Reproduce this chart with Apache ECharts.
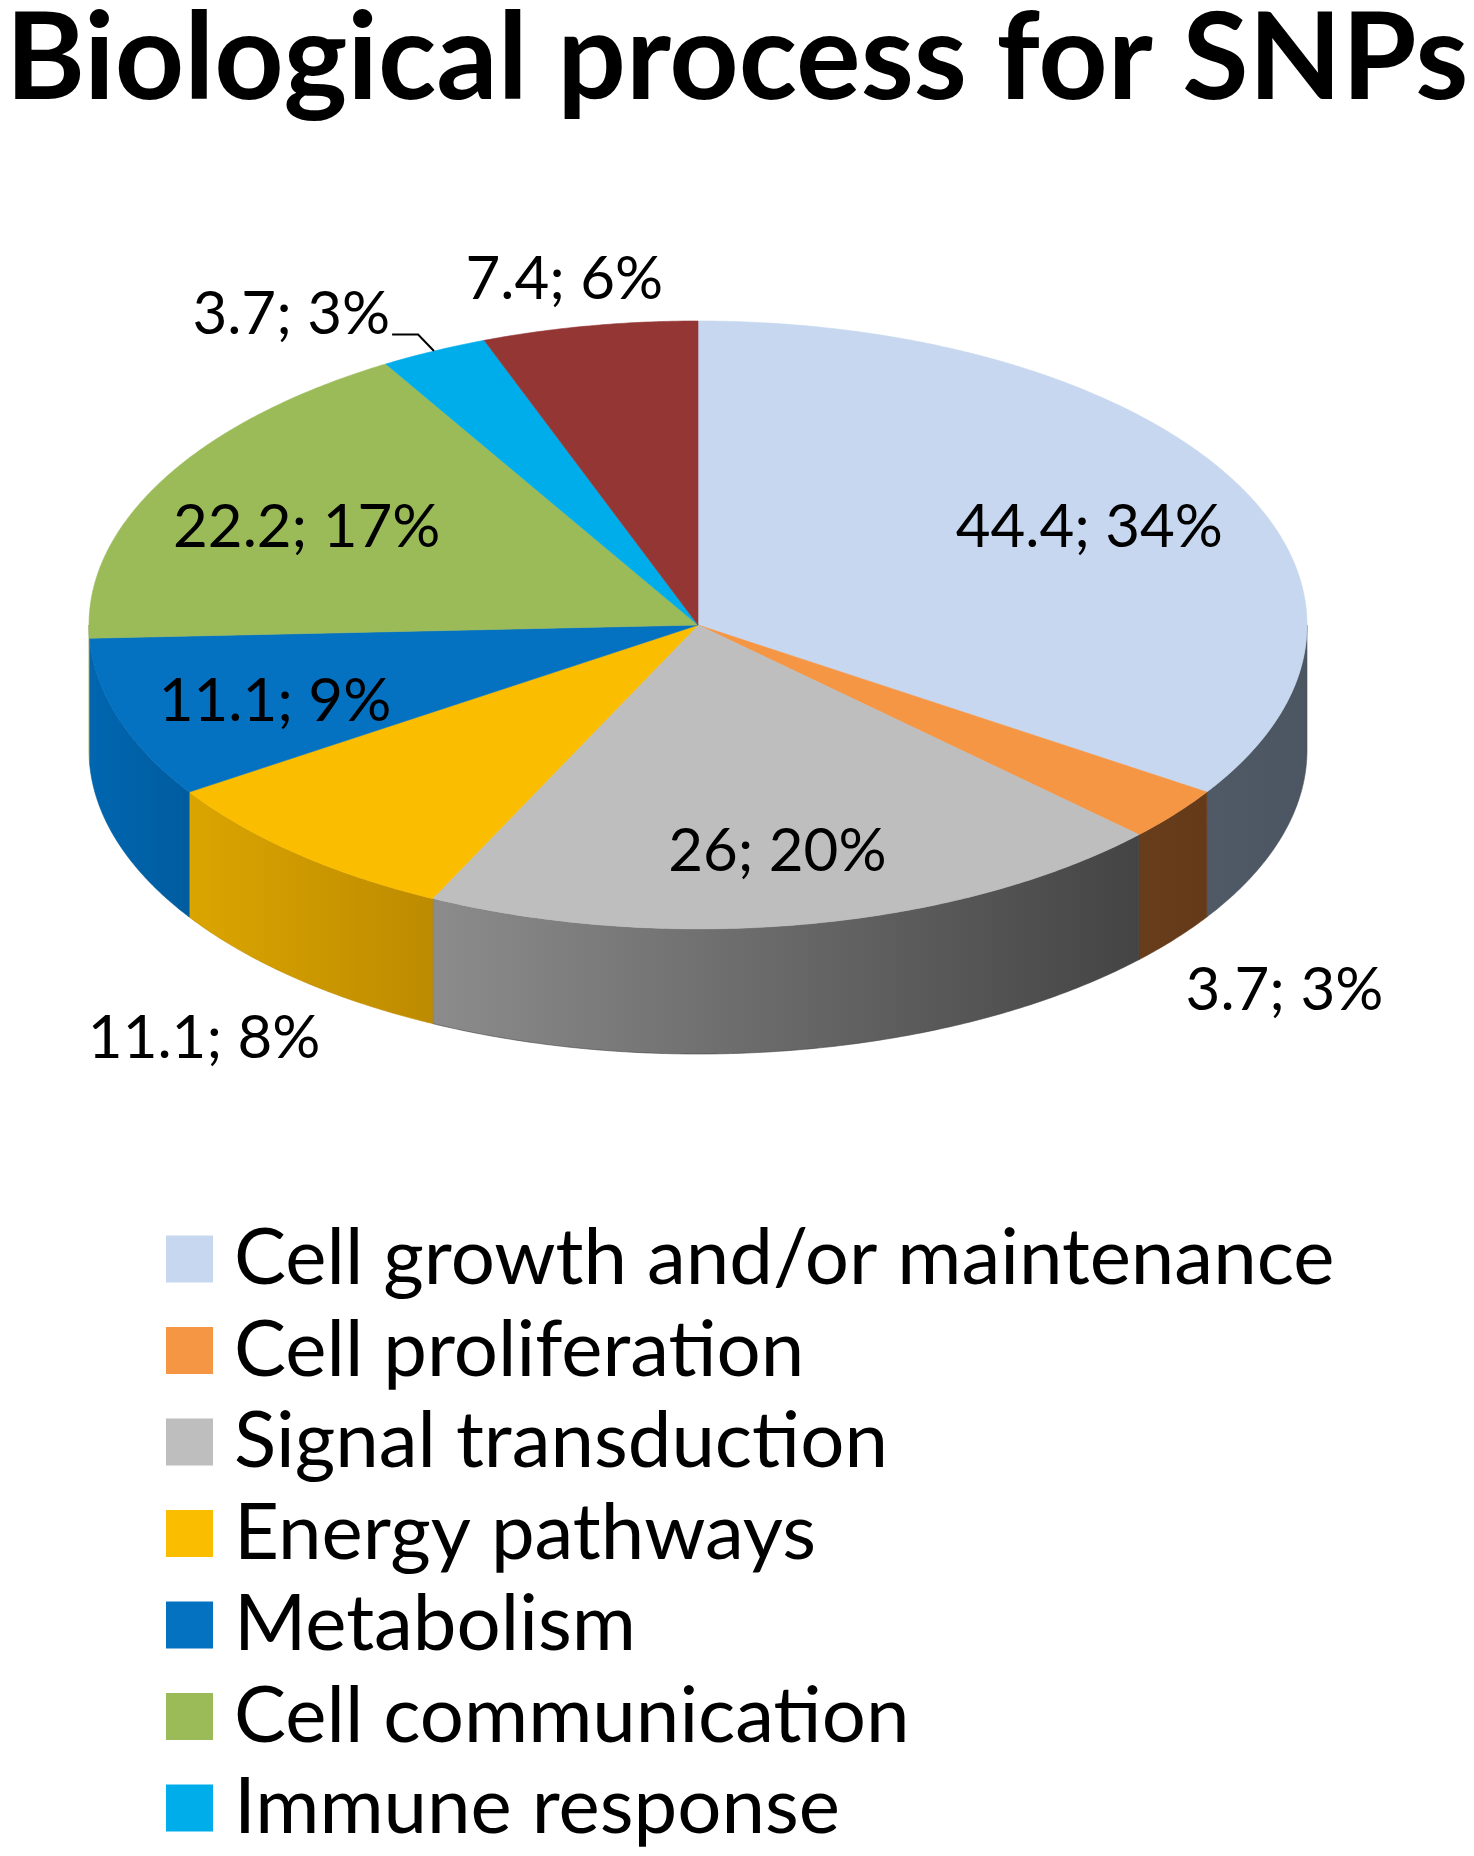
<!DOCTYPE html>
<html>
<head>
<meta charset="utf-8">
<script src="https://cdn.jsdelivr.net/npm/echarts@6/dist/echarts.min.js"></script>
<style>
    html, body { margin: 0; padding: 0; background: #fff; }
    #main { width: 1474px; height: 1856px; }
</style>
</head>
<body>
<div id="main"></div>
<script>
// data (the 8th, dark red slice has its legend entry cut off)
var categories = ['Cell growth and/or maintenance', 'Cell proliferation', 'Signal transduction',
    'Energy pathways', 'Metabolism', 'Cell communication', 'Immune response', ''];
var values = [44.4, 3.7, 26, 11.1, 11.1, 22.2, 3.7, 7.4];
var percents = [34, 3, 20, 8, 9, 17, 3, 6];
var labelModes = ['in', 'out', 'in', 'out', 'in', 'in', 'leader', 'out'];

// colours: top face, side face (left -> right)
var topColors = ['#c6d7ef', '#f59645', '#bebebe', '#fbbd00', '#0471c1', '#9bbb59', '#00adeb', '#943634'];
var sideColors = [
    ['#505a67', '#4c5562'],
    ['#673d1b', '#643a19'],
    ['#8c8c8c', '#444444'],
    ['#dba500', '#bd8b00'],
    ['#0066b0', '#005c9f'],
    ['#7e9a45', '#6f8a3c'],
    ['#0090c4', '#0082b2'],
    ['#7a2b29', '#6e2523']
];

// 3d pie geometry
var cx = 698, cy = 625, rx = 609, ry = 304, depth = 125;
var labelFont = 'Lato';

var total = 0;
for (var i = 0; i < values.length; i++) total += values[i];
var starts = [];
var acc = 0;
for (var i = 0; i < values.length; i++) {
    starts.push(acc / total * Math.PI * 2);
    acc += values[i];
}

// angle measured clockwise from 12 o'clock
function pt(a, f, dy) {
    return [cx + rx * f * Math.sin(a), cy - ry * f * Math.cos(a) + (dy || 0)];
}

function arc(a0, a1, dy) {
    var pts = [];
    var n = Math.max(2, Math.ceil((a1 - a0) / (Math.PI / 360)));
    for (var j = 0; j <= n; j++) {
        pts.push(pt(a0 + (a1 - a0) * j / n, 1, dy));
    }
    return pts;
}

function makeRender(k) {
    return function (params, api) {
        var v = api.value(0);
        var a0 = starts[k];
        var a1 = a0 + v / total * Math.PI * 2;
        var children = [];

        // side wall, only the front half can be seen
        var s0 = Math.max(a0, Math.PI / 2), s1 = Math.min(a1, Math.PI * 1.5);
        if (s1 > s0) {
            var upper = arc(s0, s1, 0);
            var lower = arc(s0, s1, depth).reverse();
            children.push({
                type: 'polygon',
                shape: { points: upper.concat(lower) },
                style: {
                    fill: {
                        type: 'linear', x: 0, y: 0, x2: 1, y2: 0,
                        colorStops: [
                            { offset: 0, color: sideColors[k][0] },
                            { offset: 1, color: sideColors[k][1] }
                        ]
                    },
                    stroke: sideColors[k][1],
                    lineWidth: 0.6
                }
            });
        }

        // top face
        children.push({
            type: 'polygon',
            shape: { points: [[cx, cy]].concat(arc(a0, a1, 0)) },
            style: { fill: topColors[k], stroke: topColors[k], lineWidth: 0.6 }
        });

        // data label "value; percent%"
        var mid = (a0 + a1) / 2;
        var txt = v + '; ' + percents[k] + '%';
        var front = Math.cos(mid) < 0;
        var lx, ly, align = 'center';
        if (labelModes[k] === 'in') {
            var p = pt(mid, 0.73, 8);
            lx = p[0]; ly = p[1];
        } else if (labelModes[k] === 'out') {
            lx = cx + rx * 1.23 * Math.sin(mid);
            ly = cy - ry * 1.2 * Math.cos(mid) + 14 + (front ? depth : 0);
        } else {
            var e = pt(mid, 1, 0);
            var b = pt(mid, 1.06, 0);
            var c = [b[0] + (Math.sin(mid) < 0 ? -26 : 26), b[1]];
            children.push({
                type: 'polyline',
                z2: 100,
                shape: { points: [c, b, e] },
                style: { stroke: '#000', lineWidth: 2, fill: null }
            });
            align = Math.sin(mid) < 0 ? 'right' : 'left';
            lx = c[0] + (Math.sin(mid) < 0 ? -2 : 2);
            ly = c[1] - 20;
        }
        children.push({
            type: 'text',
            z2: 100,
            style: {
                text: txt, x: lx, y: ly,
                align: align, verticalAlign: 'middle',
                fill: '#000', fontSize: 60, fontFamily: labelFont
            }
        });

        return { type: 'group', children: children };
    };
}

var series = [];
for (var k = 0; k < values.length; k++) {
    series.push({
        type: 'custom',
        name: categories[k],
        coordinateSystem: 'none',
        color: topColors[k],
        itemStyle: { color: topColors[k] },
        silent: true,
        animation: false,
        data: [[values[k]]],
        renderItem: makeRender(k)
    });
}

var myChart = echarts.init(document.getElementById('main'));
myChart.setOption({
    backgroundColor: '#fff',
    title: {
        text: 'Biological process for SNPs',
        left: 'center',
        top: -6,
        textStyle: { fontFamily: 'Lato', fontWeight: 'bold', fontSize: 121, color: '#000' }
    },
    legend: {
        data: categories.slice(0, 7),
        orient: 'vertical',
        left: 166,
        top: 1220,
        padding: 0,
        itemWidth: 47,
        itemHeight: 47,
        itemGap: 13.5,
        icon: 'rect',
        selectedMode: false,
        textStyle: { fontFamily: 'Lato', fontSize: 78, color: '#000', padding: [0, 0, 0, 16] }
    },
    series: series
});
</script>
</body>
</html>
